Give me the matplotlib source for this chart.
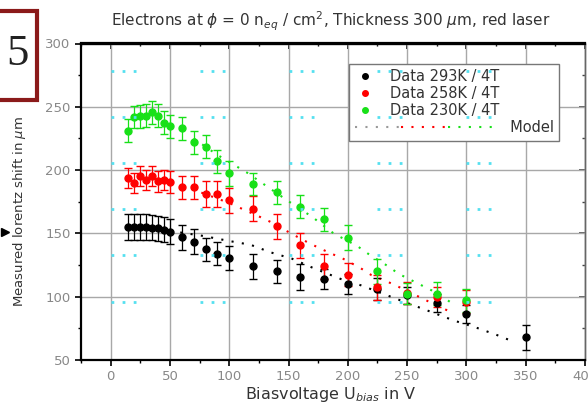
import matplotlib
matplotlib.use('Agg')
import matplotlib.pyplot as plt
from matplotlib.lines import Line2D
from matplotlib.patches import Rectangle
from matplotlib.legend_handler import HandlerBase
from matplotlib.ticker import MultipleLocator, NullFormatter

# measured data (bias voltage in V, lorentz shift in um)
v_293 = [15, 20, 25, 30, 35, 40, 45, 50, 60, 70, 80, 90, 100, 120, 140, 160, 180, 200, 225, 250, 275, 300, 350]
s_293 = [155, 155, 155, 155, 154.5, 154, 153, 151.5, 147, 143.5, 137.5, 134, 130.5, 124, 120, 115.5, 114, 110, 106, 101, 95, 86.5, 68]
e_293 = [10, 10, 10, 10, 10, 10, 10, 10, 10, 10, 9, 9, 9.5, 10, 9, 10, 8, 8, 9, 7, 7, 7, 10]

v_258 = [15, 20, 25, 30, 35, 40, 45, 50, 60, 70, 80, 90, 100, 120, 140, 160, 180, 200, 225, 250, 275, 300]
s_258 = [194, 190, 195.5, 192, 195.5, 191, 192, 190.5, 186.5, 186.5, 181, 181, 176, 169.5, 155.5, 140.5, 124, 117.5, 107.5, 103, 100, 96]
e_258 = [8, 8, 8, 8, 8, 8, 8, 8.5, 9, 9, 10, 10, 10, 10, 10, 10, 10, 9, 10, 9, 8, 9]

v_230 = [15, 20, 25, 30, 35, 40, 45, 50, 60, 70, 80, 90, 100, 120, 140, 160, 180, 200, 225, 250, 275, 300]
s_230 = [231, 242, 242.5, 243, 245.5, 243, 237.5, 234.5, 233, 222, 218.5, 207, 197.5, 189, 182.5, 171, 161, 146.5, 120, 102.5, 102.5, 97]
e_230 = [9, 9, 9, 9, 9, 9, 9, 9, 9, 9, 9, 9, 10, 9, 9, 9, 9, 10, 10, 8, 9, 9]

# model curves
mv_293 = [50, 78, 100, 118, 135, 153, 170, 194, 211, 239, 256, 290, 307, 325, 341]
ms_293 = [152, 148, 144, 141, 135, 130, 123, 114, 109, 99, 93, 81, 76, 70, 64]
mv_258 = [60, 80, 100, 126, 135, 152, 168, 186, 194, 210, 220, 238, 262, 275, 289]
ms_258 = [188, 181, 174, 163, 159, 150, 142, 134, 131, 123, 117, 110, 99, 93, 87]
mv_230 = [70, 90, 115, 132, 149, 170, 188, 208, 217, 234, 243, 260, 275, 286]
ms_230 = [225, 212, 198, 187, 176, 163, 150, 140, 134, 124, 118, 110, 103, 96]

# cyan dotted artefact grid
cyan_rows = [278.5, 242, 206, 169.5, 133, 96]
cyan_cols = [0, 75, 150, 225, 300]

GREEN = '#18e018'
CYAN = '#55e0f0'
TXT = '#333333'
TICK = '#888888'


class ModelHandler(HandlerBase):
    # dotted line in three colours, running up to the label
    def create_artists(self, legend, orig_handle, xdescent, ydescent,
                       width, height, fontsize, trans):
        arts = []
        cols = ['#999999', 'red', GREEN]
        w = width + 84
        x0 = -xdescent + 1
        for i, c in enumerate(cols):
            ln = Line2D([x0 + i * w / 3, x0 + (i + 1) * w / 3], [height / 2, height / 2],
                        color=c, lw=1.5, ls=(0, (1, 4)), transform=trans)
            arts.append(ln)
        return arts


fig = plt.figure(figsize=(5.88, 4.12), dpi=100)
ax = fig.add_axes([81 / 588, 52 / 412, 504 / 588, 316.5 / 412])

ax.set_xlim(-25, 400)
ax.set_ylim(50, 300)
ax.xaxis.set_major_locator(MultipleLocator(50))
ax.xaxis.set_minor_locator(MultipleLocator(25))
ax.yaxis.set_major_locator(MultipleLocator(50))
ax.yaxis.set_minor_locator(MultipleLocator(25))
ax.grid(True, which='major', color='#a8a8a8', lw=1, zorder=0)

for r in cyan_rows:
    for c in cyan_cols:
        ax.plot([c, c + 26], [r, r], color=CYAN, lw=2, ls=(0, (1, 3)), zorder=6)

ax.plot(mv_293, ms_293, color='black', lw=1.5, ls=(0, (1, 4)), zorder=2)
ax.plot(mv_258, ms_258, color='red', lw=1.5, ls=(0, (1, 4)), zorder=2)
ax.plot(mv_230, ms_230, color=GREEN, lw=1.5, ls=(0, (1, 4)), zorder=2)

ax.errorbar(v_293, s_293, yerr=e_293, fmt='o', color='black', ms=5, capsize=3, elinewidth=0.9, zorder=3)
ax.errorbar(v_258, s_258, yerr=e_258, fmt='o', color='red', ms=5, capsize=3, elinewidth=0.9, zorder=3)
ax.errorbar(v_230, s_230, yerr=e_230, fmt='o', color=GREEN, ms=5, capsize=3, elinewidth=0.9, zorder=3)

h1 = Line2D([], [], ls='none', marker='o', ms=4, color='black')
h2 = Line2D([], [], ls='none', marker='o', ms=4, color='red')
h3 = Line2D([], [], ls='none', marker='o', ms=4, color=GREEN)
h4 = Line2D([], [], ls=':', color='gray')
leg = ax.legend([h1, h2, h3, h4],
                ['Data 293K / 4T', 'Data 258K / 4T', 'Data 230K / 4T', '                          Model'],
                loc='upper right', bbox_to_anchor=(0.955, 0.945), fontsize=10.5,
                fancybox=False, edgecolor='#777777', framealpha=1,
                handlelength=1.5, handletextpad=1.0, labelspacing=0.15,
                borderpad=0.35, borderaxespad=0.2, handler_map={h4: ModelHandler()})
for t in leg.get_texts():
    t.set_color(TXT)

for side in ['left', 'bottom', 'top']:
    ax.spines[side].set_linewidth(1.6)
ax.spines['right'].set_linewidth(1.0)
ax.spines['right'].set_color('#666666')
ax.tick_params(axis='both', which='both', labelsize=9.5, labelcolor=TICK, color='black', direction='out')
ax.tick_params(axis='both', which='major', length=4, width=1.2)
ax.tick_params(axis='both', which='minor', length=2.5, width=1)

# inward ticks on top and right
secx = ax.secondary_xaxis('top')
secx.xaxis.set_major_locator(MultipleLocator(50))
secx.xaxis.set_minor_locator(MultipleLocator(25))
secx.xaxis.set_major_formatter(NullFormatter())
secx.tick_params(which='both', direction='in', color='black')
secx.tick_params(which='major', length=4, width=1.2)
secx.tick_params(which='minor', length=2.5, width=1)
secx.spines['top'].set_linewidth(1.6)
secy = ax.secondary_yaxis('right')
secy.yaxis.set_major_locator(MultipleLocator(50))
secy.yaxis.set_minor_locator(MultipleLocator(25))
secy.yaxis.set_major_formatter(NullFormatter())
secy.tick_params(which='both', direction='in', color='#444444')
secy.tick_params(which='major', length=4, width=1.2)
secy.tick_params(which='minor', length=2.5, width=1)
secy.spines['right'].set_linewidth(1.0)
secy.spines['right'].set_color('#666666')

fig.text(331 / 588, (412 - 21) / 412,
         'Electrons at $\\phi$ = 0 n$_{eq}$ / cm$^2$, Thickness 300 $\\mu$m, red laser',
         ha='center', va='center', fontsize=11, color=TXT)
fig.text(331 / 588, (412 - 395) / 412, 'Biasvoltage U$_{bias}$ in V',
         ha='center', va='center', fontsize=11.5, color=TXT)
fig.text(20 / 588, (412 - 212) / 412, 'Measured lorentz shift in $\\mu$m',
         ha='center', va='center', rotation=90, fontsize=9.5, color=TXT)

# figure number box
fig.patches.append(Rectangle((-0.02, (412 - 100) / 412), 0.02 + 37 / 588, 89 / 412,
                             transform=fig.transFigure, facecolor='white',
                             edgecolor='#8b1a1a', lw=3))
fig.text(17 / 588, (412 - 54) / 412, '5', ha='center', va='center', fontsize=32,
         family='Liberation Serif', color='#222222')
fig.lines.append(Line2D([5 / 588], [(412 - 232) / 412], transform=fig.transFigure,
                        marker='>', ms=6, color='black', ls='none'))

plt.savefig('out.png', dpi=100)
